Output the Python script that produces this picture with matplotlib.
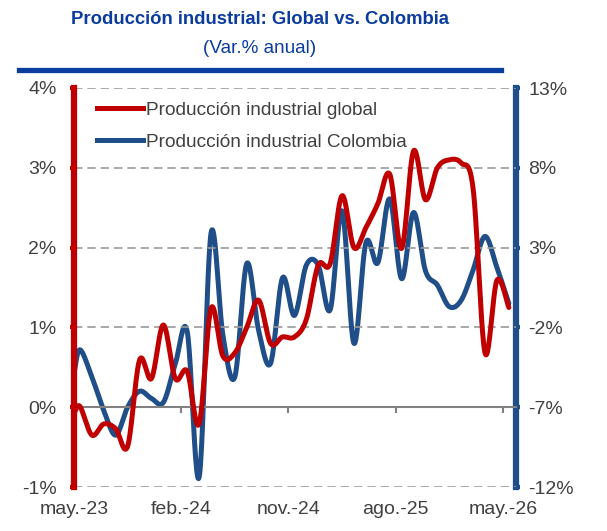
import numpy as np
import matplotlib
matplotlib.use("Agg")
from matplotlib import pyplot as plt
from matplotlib.lines import Line2D

plt.rcParams['font.family'] = ['Liberation Sans', 'DejaVu Sans']

# months counted from may.-23 (first value at the start, the rest mid-month)
meses = [0] + [k + 0.5 for k in range(37)]

# Producción industrial global (Var.% anual, eje izquierdo)
global_pi = [-0.08, 0.01, -0.35, -0.21, -0.27, -0.49, 0.59, 0.36, 1.03, 0.36,
             0.45, -0.21, 1.24, 0.64, 0.68, 1.00, 1.34, 0.80, 0.88, 0.88,
             1.10, 1.78, 1.80, 2.65, 2.00, 2.25, 2.55, 2.92, 1.99, 3.21,
             2.60, 3.00, 3.10, 3.06, 2.74, 0.68, 1.59, 1.25]

# Producción industrial Colombia (Var.% anual, eje derecho)
colombia_pi = [-4.9, -3.4, -5.1, -7.2, -8.75, -7.0, -6.0, -6.45, -6.7, -4.3,
               -2.25, -11.4, 3.9, -2.5, -5.1, 2.0, -2.2, -4.25, 1.1, -1.25,
               1.9, 1.9, -0.9, 5.3, -3.0, 3.3, 2.05, 6.05, 1.05, 5.2,
               1.55, 0.65, -0.7, -0.3, 1.6, 3.7, 1.75, -0.5]

tick_pos = [0, 9, 18, 27, 36]
tick_lab = ["may.-23", "feb.-24", "nov.-24", "ago.-25", "may.-26"]

left_ticks = [-1, 0, 1, 2, 3, 4]
right_ticks = [-12, -7, -2, 3, 8, 13]

RED = "#C00000"
BLUE = "#1F4E88"
TITLE_BLUE = "#0B3C9E"
GRAY = "#404040"


def smooth(x, y, n=24):
    # Catmull-Rom, like Excel's smoothed lines
    pts = np.column_stack([x, y]).astype(float)
    P = np.vstack([pts[0], pts, pts[-1]])
    t = np.linspace(0, 1, n, endpoint=False)[:, None]
    out = []
    for i in range(1, len(P) - 2):
        p0, p1, p2, p3 = P[i - 1], P[i], P[i + 1], P[i + 2]
        seg = 0.5 * (2 * p1 + (-p0 + p2) * t
                     + (2 * p0 - 5 * p1 + 4 * p2 - p3) * t ** 2
                     + (-p0 + 3 * p1 - 3 * p2 + p3) * t ** 3)
        out.append(seg)
    out.append(P[-2][None])
    s = np.vstack(out)
    return s[:, 0], s[:, 1]


fig = plt.figure(figsize=(6.07, 5.31), dpi=100)
ax = fig.add_axes([74 / 607, 1 - 487 / 531, 442 / 607, 399 / 531])
ax2 = ax.twinx()

fig.text(260 / 607, 1 - 20 / 531, "Producción industrial: Global vs. Colombia",
         ha="center", va="center", fontsize=13.3, fontweight="bold", color=TITLE_BLUE)
fig.text(260 / 607, 1 - 48 / 531, "(Var.% anual)", ha="center", va="center",
         fontsize=13.6, color=TITLE_BLUE)
fig.add_artist(Line2D([19 / 607, 501 / 607], [1 - 69.5 / 531, 1 - 69.5 / 531],
                      transform=fig.transFigure, color=TITLE_BLUE, lw=3.8))

ax.set_xlim(0, 37.1)
ax.set_ylim(-1, 4)
ax2.set_ylim(-12, 13)

for v in left_ticks:
    if v == 0:
        continue
    ax.axhline(v, color="#999999", lw=1.2, ls=(0, (5, 3)), zorder=0)

xs, ys = smooth(meses, global_pi)
ax.plot(xs, ys, color=RED, lw=3.6, solid_capstyle="round", zorder=3)
xs, ys = smooth(meses, colombia_pi)
ax2.plot(xs, ys, color=BLUE, lw=3.6, solid_capstyle="round", zorder=3)

# x axis line at 0%
sec = ax.secondary_xaxis(0.2)
sec.set_xticks(tick_pos)
sec.set_xticklabels([])
sec.spines["bottom"].set_color("#808080")
sec.spines["bottom"].set_linewidth(1.5)
sec.tick_params(axis="x", direction="out", length=4, width=1.5, color="#808080")

ax.set_xticks(tick_pos)
ax.set_xticklabels(tick_lab)
ax.tick_params(axis="x", length=0, pad=10, labelsize=14, labelcolor=GRAY)

ax.set_yticks(left_ticks)
ax.set_yticklabels([f"{v}%" for v in left_ticks])
ax.tick_params(axis="y", length=3, width=3, color=RED, labelsize=14,
               labelcolor=GRAY, pad=9.5)
ax2.set_yticks(right_ticks)
ax2.set_yticklabels([f"{v}%" for v in right_ticks])
ax2.tick_params(axis="y", length=3, width=3, color=BLUE, labelsize=14,
                labelcolor=GRAY, pad=6)

for a in (ax, ax2):
    a.spines["top"].set_visible(False)
    a.spines["bottom"].set_visible(False)
ax.spines["left"].set_color(RED)
ax.spines["left"].set_linewidth(4.5)
ax.spines["right"].set_visible(False)
ax2.spines["left"].set_visible(False)
ax2.spines["right"].set_color(BLUE)
ax2.spines["right"].set_linewidth(4.5)
ax.set_zorder(ax2.get_zorder() + 1)
ax.patch.set_visible(False)

handles = [Line2D([], [], color=RED, lw=3.6), Line2D([], [], color=BLUE, lw=3.6)]
leg = ax.legend(handles, ["Producción industrial global", "Producción industrial Colombia"],
                loc="upper left", bbox_to_anchor=(0.035, 0.985), frameon=False,
                fontsize=13.7, handlelength=2.4, handletextpad=0.15, labelspacing=0.75,
                borderaxespad=0)
for t in leg.get_texts():
    t.set_color(GRAY)

fig.savefig("out.png", dpi=100)
